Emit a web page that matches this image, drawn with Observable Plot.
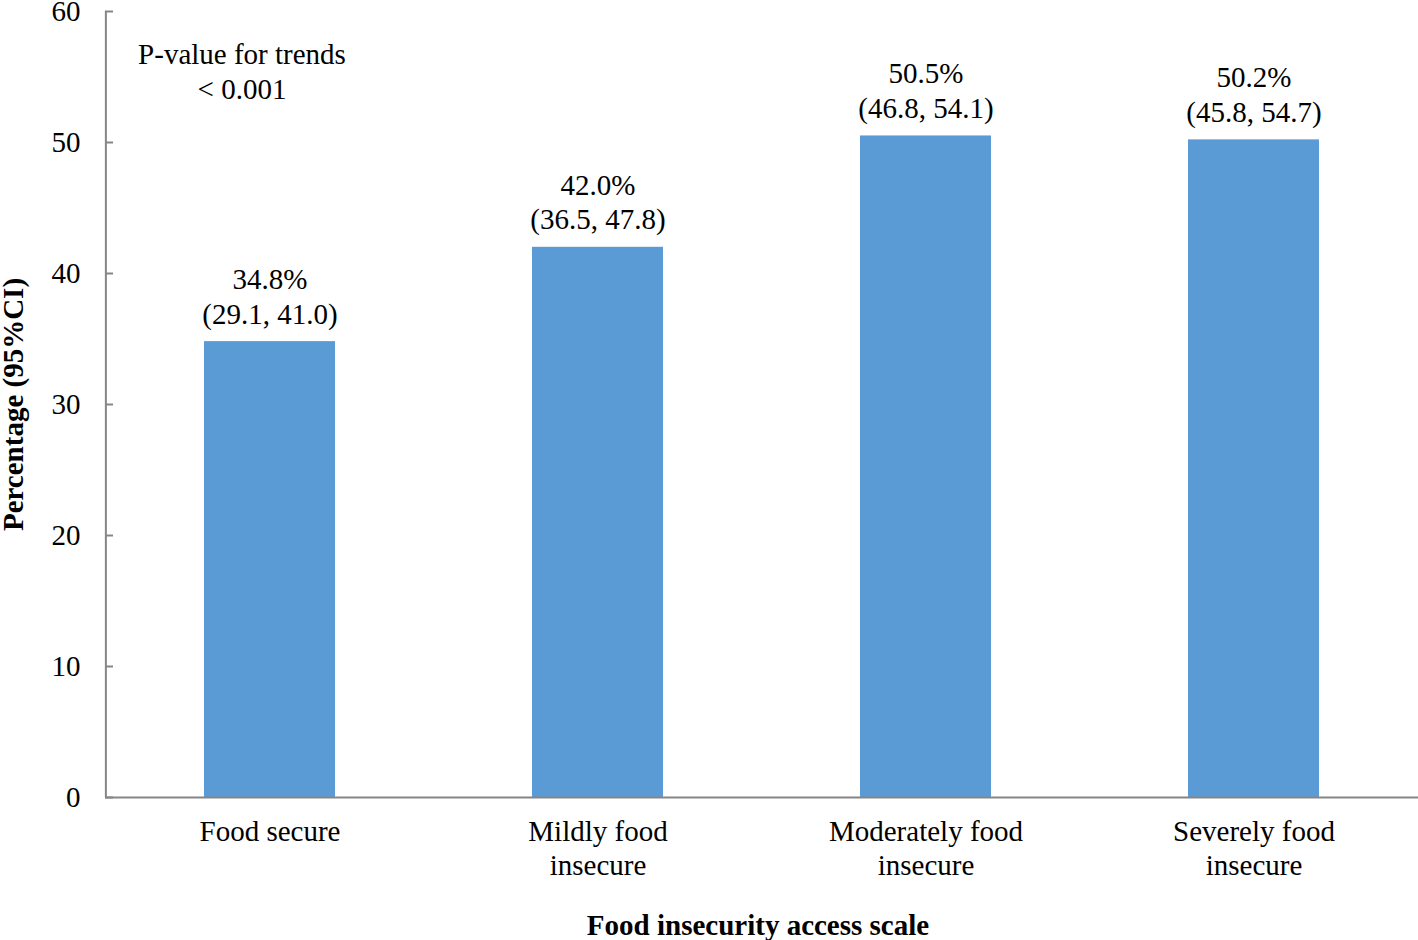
<!DOCTYPE html>
<html>
<head>
<meta charset="utf-8">
<script src="https://cdn.jsdelivr.net/npm/d3@7"></script>
<script src="https://cdn.jsdelivr.net/npm/@observablehq/plot@0.6"></script>
<style>
  html, body { margin: 0; padding: 0; background: #fff; }
  #chart svg { display: block; }
</style>
</head>
<body>
<div id="chart"></div>
<script>
const categories = ["Food secure", "Mildly food\ninsecure", "Moderately food\ninsecure", "Severely food\ninsecure"];
const percentages = [34.8, 42.0, 50.5, 50.2];
const ciLower = [29.1, 36.5, 46.8, 45.8];
const ciUpper = [41.0, 47.8, 54.1, 54.7];
const yTicks = [0, 10, 20, 30, 40, 50, 60];
const annotation = "P-value for trends\n< 0.001";
const xTitle = "Food insecurity access scale";
const yTitle = "Percentage (95%CI)";

const data = categories.map((c, i) => ({
  category: c,
  value: percentages[i],
  label: `${percentages[i].toFixed(1)}%\n(${ciLower[i].toFixed(1)}, ${ciUpper[i].toFixed(1)})`
}));

const W = 1418, H = 940;
const mL = 105, mR = 0, mT = 11, mB = 143;
const axisColor = "#868686";
const FS = 29;
const step = (W - mL - mR) / categories.length;

const chart = Plot.plot({
  width: W,
  height: H,
  marginLeft: mL,
  marginRight: mR,
  marginTop: mT,
  marginBottom: mB,
  style: { fontFamily: "'Liberation Serif', 'Times New Roman', serif", fontSize: FS + "px", color: "#000", background: "#fff" },
  x: { domain: categories, paddingInner: 0.6, paddingOuter: 0.3, align: 0.5, label: null },
  y: { domain: [0, 60], label: null },
  marks: [
    Plot.barY(data, { x: "category", y: "value", fill: "#5B9BD5" }),
    Plot.ruleY([0], { stroke: axisColor, strokeWidth: 2 }),
    Plot.ruleX([categories[0]], { dx: -step / 2, stroke: axisColor, strokeWidth: 2 }),
    Plot.tickY(yTicks, { y: d => d, insetRight: (W - mL - mR) - 8, stroke: axisColor, strokeWidth: 2 }),
    Plot.axisY({ ticks: yTicks, tickSize: 0, tickPadding: 25, label: null, fontSize: FS }),
    Plot.axisX({ tickSize: 0, tickPadding: 20, label: null, lineHeight: 1.15, fontSize: FS }),
    Plot.text(data, { x: "category", y: "value", text: "label", lineAnchor: "bottom", dy: -18, lineHeight: 1.2, fontSize: FS }),
    Plot.text([annotation], { x: () => categories[0], y: () => 55.5, dx: -28, lineAnchor: "middle", lineHeight: 1.2, fontSize: FS }),
    Plot.text([xTitle], { frameAnchor: "bottom", textAnchor: "middle", dx: -4, dy: 137, fontWeight: "bold", fontSize: FS }),
    Plot.text([yTitle], { frameAnchor: "left", textAnchor: "middle", dx: -92, rotate: -90, fontWeight: "bold", fontSize: FS })
  ]
});
document.getElementById("chart").appendChild(chart);
</script>
</body>
</html>
